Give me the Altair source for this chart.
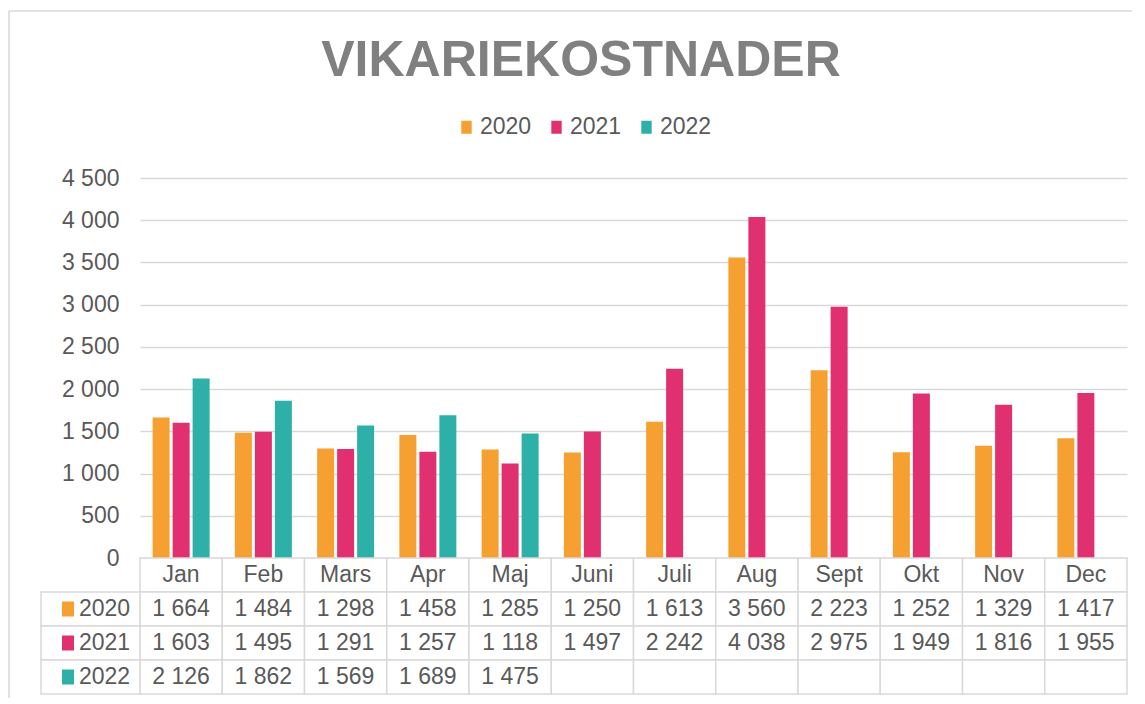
import altair as alt
import pandas as pd

FONT = "Liberation Sans"
TXT = "#595959"
GRID = "#D9D9D9"

title_text = "VIKARIEKOSTNADER"
months = ["Jan", "Feb", "Mars", "Apr", "Maj", "Juni", "Juli", "Aug", "Sept", "Okt", "Nov", "Dec"]
years = ["2020", "2021", "2022"]
v2020 = [1664, 1484, 1298, 1458, 1285, 1250, 1613, 3560, 2223, 1252, 1329, 1417]
v2021 = [1603, 1495, 1291, 1257, 1118, 1497, 2242, 4038, 2975, 1949, 1816, 1955]
v2022 = [2126, 1862, 1569, 1689, 1475]
colors = ["#F5A030", "#E0306F", "#2CB0A8"]
y_ticks = [0, 500, 1000, 1500, 2000, 2500, 3000, 3500, 4000, 4500]

series = {"2020": v2020, "2021": v2021, "2022": v2022}

bar_rows = []
for yr in years:
    for m, v in zip(months, series[yr]):
        bar_rows.append({"month": m, "year": yr, "value": v})
bar_df = pd.DataFrame(bar_rows)


def fmt(v):
    return f"{v:,}".replace(",", " ")


rows = ["m"] + years
table_rows = []
for m in months:
    table_rows.append({"month": m, "row": "m", "text": m})
for yr in years:
    vals = series[yr]
    for i, m in enumerate(months):
        table_rows.append({"month": m, "row": yr, "text": fmt(vals[i]) if i < len(vals) else ""})
table_df = pd.DataFrame(table_rows)
label_df = pd.DataFrame({"row": years})

W, H = 987, 380
RH = 34
TOP = 167
LEFT = 131

box_path = "M-0.8,-1L0.8,-1L0.8,1L-0.8,1Z"

frame_df = pd.DataFrame({"k": [0]})
top_rule = alt.Chart(frame_df).mark_rule(color=GRID, strokeWidth=1.5).encode(
    x=alt.value(-LEFT), x2=alt.value(992), y=alt.value(-TOP)
)
left_rule = alt.Chart(frame_df).mark_rule(color=GRID, strokeWidth=1.5).encode(
    x=alt.value(-LEFT), y=alt.value(-TOP), y2=alt.value(H)
)

title_df = pd.DataFrame({"t": [title_text]})
title = alt.Chart(title_df).mark_text(
    font=FONT, fontSize=50, fontWeight="bold", color="#808080",
    align="center", baseline="alphabetic"
).encode(text="t:N", x=alt.value(441), y=alt.value(-102))

bars = alt.Chart(bar_df).mark_bar().encode(
    x=alt.X("month:N", sort=months, axis=None,
            scale=alt.Scale(domain=months, paddingInner=0.307, paddingOuter=0.1535)),
    xOffset=alt.XOffset("year:N", scale=alt.Scale(domain=years, paddingInner=0.15, paddingOuter=0)),
    y=alt.Y("value:Q", scale=alt.Scale(domain=[0, 4500], nice=False),
            axis=alt.Axis(values=y_ticks, title=None, domain=False, ticks=False,
                          grid=True, gridColor=GRID, gridWidth=1.3,
                          labelFontSize=23, labelColor=TXT, labelFont=FONT, labelPadding=21,
                          labelExpr="replace(format(datum.value, ','), ',', ' ')")),
    color=alt.Color("year:N", scale=alt.Scale(domain=years, range=colors),
                    legend=alt.Legend(title=None, orient="none", legendX=315, legendY=-62.5,
                                      direction="horizontal", symbolType=box_path, symbolSize=169,
                                      symbolStrokeWidth=0, labelFontSize=23, labelColor=TXT,
                                      labelFont=FONT, labelOffset=2, columnPadding=13, padding=0)),
)

top = alt.layer(left_rule, top_rule, bars, title).properties(width=W, height=H)

xs_t = alt.Scale(domain=months, paddingInner=0, paddingOuter=0)
ys_t = alt.Scale(domain=rows, paddingInner=0, paddingOuter=0)

cells = alt.Chart(table_df).mark_rect(fill="white", stroke=GRID, strokeWidth=1.5).encode(
    x=alt.X("month:N", scale=xs_t, axis=None),
    y=alt.Y("row:N", scale=ys_t, axis=None),
)
cell_text = alt.Chart(table_df).mark_text(
    font=FONT, fontSize=23, color=TXT, align="center", baseline="middle"
).encode(
    x=alt.X("month:N", scale=xs_t, axis=None),
    y=alt.Y("row:N", scale=ys_t, axis=None),
    text="text:N",
)
label_cells = alt.Chart(label_df).mark_rect(fill="white", stroke=GRID, strokeWidth=1.5).encode(
    x=alt.value(-99), x2=alt.value(0),
    y=alt.Y("row:N", scale=ys_t, axis=None),
)
label_boxes = alt.Chart(label_df).mark_point(shape=box_path, filled=True, size=225, opacity=1).encode(
    x=alt.value(-72),
    y=alt.Y("row:N", scale=ys_t, axis=None),
    color=alt.Color("row:N", scale=alt.Scale(domain=years, range=colors), legend=None),
)
label_text = alt.Chart(label_df).mark_text(
    font=FONT, fontSize=23, color=TXT, align="left", baseline="middle"
).encode(
    x=alt.value(-61),
    y=alt.Y("row:N", scale=ys_t, axis=None),
    text="row:N",
)
left_rule2 = alt.Chart(frame_df).mark_rule(color=GRID, strokeWidth=1.5).encode(
    x=alt.value(-LEFT), y=alt.value(0), y2=alt.value(RH * 4 + 4)
)

bottom = alt.layer(left_rule2, cells, label_cells, cell_text, label_boxes, label_text).properties(
    width=W, height=RH * 4
)

chart = alt.vconcat(top, bottom, spacing=0, bounds="flush").resolve_scale(
    x="independent", y="independent", color="independent", xOffset="independent"
).properties(
    padding={"left": 0, "top": 2, "right": 0, "bottom": 0}, background="white"
).configure_view(stroke=None)

chart.save("out.html", embed_options={"renderer": "svg", "actions": False})
